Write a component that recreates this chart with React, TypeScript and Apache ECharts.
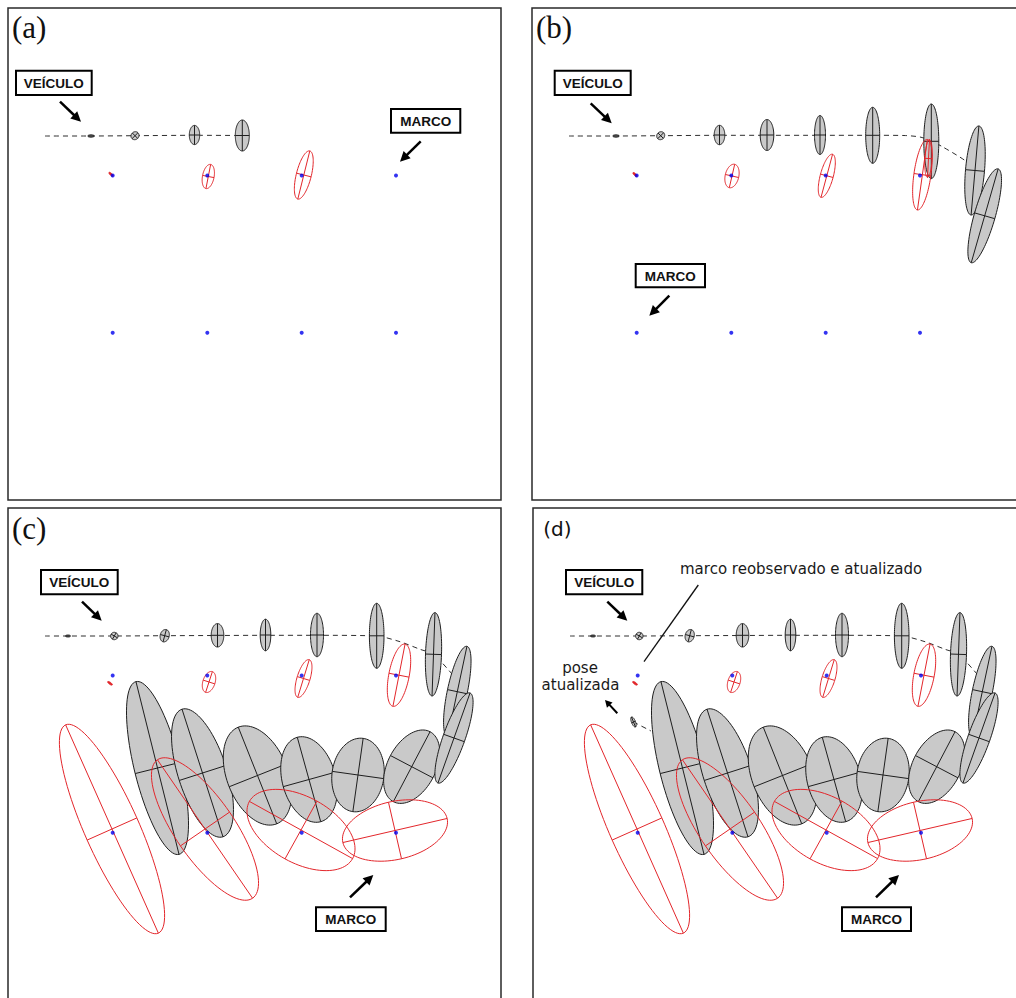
import React, { useEffect, useRef } from "react";
import * as echarts from "echarts";

// ---------------- DATA (panel-local frame, shared by all four panels; y grows downward) ----------------
const LANDMARK_X = [112.7, 207.3, 301.7, 396];
const LANDMARK_Y = [175.5, 332.7];

// Ellipses: [cx, cy, semi-axis a (tilted theta deg from vertical), semi-axis b, theta]
const VEHICLE_A = [
  [91, 136, 1.2, 3.2, 0],
  [135, 135.7, 4.2, 3.8, 45],
  [194.5, 135, 9.6, 5.2, 0],
  [242.3, 135.5, 15.5, 7, 0],
];
const LM_RED_A = [
  [111, 174.3, 2.7, 1, -47],
  [208.3, 176.5, 12.3, 5.8, 11],
  [303.8, 175, 24.8, 7.5, 14],
];
const TRAJ_A = [
  [45, 136], [91, 136], [135, 135.7], [194.5, 135.3], [242.3, 135.5],
];

const VEHICLE_B = [
  [92, 136, 1.2, 3.2, 0],
  [136.7, 135.7, 4.2, 3.8, 45],
  [195.5, 135, 9.7, 5.3, 0],
  [243, 135, 15.5, 6.8, 0],
  [296, 135, 19.5, 5.5, 0],
  [348.7, 135.3, 28, 7, 0],
  [407.3, 141.3, 37.3, 7.5, 0],
  [451, 170.5, 44.7, 9.5, 5],
  [460.7, 215.8, 48.8, 10.5, 16],
];
const LM_RED_B = [
  [111, 174.5, 2.7, 1, -47],
  [208, 176, 12, 6.8, 13],
  [302.8, 175.8, 22.3, 6.5, 15],
  [398.4, 174.7, 35.6, 8.5, 8],
  [404.5, 158.5, 19, 3.6, 3],
];
const TRAJ_B = [
  [45, 136], [92, 136], [136.7, 135.7], [195.5, 135.3], [243, 135.3], [296, 135.3],
  [348.7, 135.3], [380, 135.5], [396, 137], [407.3, 141], [418, 146.5], [441, 160.5], [451, 170.5],
];

const VEHICLE_C = [
  [68, 136, 1, 2.5, 0],
  [114.3, 136, 3.7, 3.7, 30],
  [164.7, 135.7, 6.3, 4.5, 15],
  [217.5, 135.3, 11.7, 6.3, 0],
  [265.5, 135, 15.8, 5.3, 0],
  [317, 135, 21.7, 6.5, 0],
  [376.7, 135.8, 32.5, 7.3, 0],
  [433.5, 154.3, 41.7, 8, 2],
  [457.3, 191.7, 46.4, 10, 12],
  [157.5, 268, 89, 23, -14],
  [202.5, 273, 67, 24.4, -17.8],
  [257.5, 275.5, 52, 30.5, -21.7],
  [309, 279.5, 43.8, 26.7, -15.5],
  [358, 275, 37, 26, 8],
  [411.7, 266.7, 39.5, 24, 27.7],
  [454, 238, 47.8, 11, 19.6],
];
const LM_RED_C = [
  [110, 183.3, 2.8, 1, -54],
  [209, 182, 10.9, 6.1, 18],
  [303.5, 178.5, 19.7, 6.5, 17],
  [399, 175.2, 31.7, 10.2, 11],
  [112, 329, 114, 27.2, -24],
  [205, 329, 84, 29.8, -34.5],
  [301, 330, 59, 33, -61],
  [395, 330.5, 53.5, 29, 77],
];
const TRAJ_C = [
  [45, 136], [68, 136], [114.3, 136], [164.7, 135.7], [217.5, 135.5], [265.5, 135.3],
  [317, 135.3], [376.7, 136], [400, 141.7], [420, 149.3], [433.5, 154.3], [452, 174],
];
const UPDATED_POSE_D = [[108.5, 222, 5.4, 2, -22]];
const TRAJ_D_EXTRA = [[108.5, 222], [126, 231]];

// ---------------- LAYOUT ----------------
const VIEW_W = 1016;
const VIEW_H = 998;
const GRID_POS = [[8, 8], [532, 8], [8, 508], [533, 508]];
const PANEL_W = 493;
const PANEL_H = 492;
const ORIGIN = 8; // local coordinate at each panel's top-left corner

const SANS = '"DejaVu Sans", "Liberation Sans", sans-serif';
const SERIF = '"Liberation Serif", "Times New Roman", serif';
const BOLD = '"Liberation Sans", Arial, sans-serif';

const ANNOTATIONS: any[] = [
  {
    label: "(a)", serif: true, labelAt: [12, 27],
    boxes: [["VEÍCULO", 16, 70.7, 91.7, 95], ["MARCO", 391, 109, 460.3, 132.7]],
    arrows: [[60, 101.7, 81, 121.7], [420.7, 141.3, 400, 161.7]],
  },
  {
    label: "(b)", serif: true, labelAt: [12, 27],
    boxes: [["VEÍCULO", 30.7, 70.7, 106.7, 95], ["MARCO", 111.7, 264, 181, 287.3]],
    arrows: [[66.7, 103.3, 87.7, 123.3], [145.3, 295.7, 125.3, 315.7]],
  },
  {
    label: "(c)", serif: true, labelAt: [12, 28],
    boxes: [["VEÍCULO", 41, 70, 117.7, 94.3], ["MARCO", 316, 407.3, 385.7, 431]],
    arrows: [[82, 101.7, 101.7, 120.7], [350, 397.3, 373.3, 375]],
  },
  {
    label: "(d)", serif: false, labelAt: [18.3, 29],
    boxes: [["VEÍCULO", 41, 70, 117.3, 94.3], ["MARCO", 317, 407.3, 386, 431]],
    arrows: [[82.3, 101.7, 102.3, 120.7], [351, 397.3, 374, 375]],
    texts: [
      ["marco reobservado e atualizado", 155, 69, "left"],
      ["pose", 55, 167.7, "center"],
      ["atualizada", 55.5, 185, "center"],
    ],
    lines: [[173.3, 85, 119, 161.7]],
    smallArrows: [[92.3, 213.3, 80, 200]],
  },
];

function ellipseSeries(grid: number, data: number[][], kind: "veh" | "lm", z: number) {
  return {
    type: "custom",
    coordinateSystem: "cartesian2d",
    xAxisIndex: grid,
    yAxisIndex: grid,
    z,
    silent: true,
    encode: { x: 0, y: 1 },
    data,
    renderItem: (_params: any, api: any) => {
      const a = api.value(2);
      const b = api.value(3);
      const th = (api.value(4) * Math.PI) / 180;
      const c = api.coord([api.value(0), api.value(1)]);
      const s = api.size([1, 1]);
      const sx = Math.abs(s[0]);
      const sy = Math.abs(s[1]);
      const ux = Math.sin(th) * sx, uy = -Math.cos(th) * sy;
      const vx = Math.cos(th) * sx, vy = Math.sin(th) * sy;
      const pts: number[][] = [];
      const N = 96;
      for (let i = 0; i < N; i++) {
        const t = (2 * Math.PI * i) / N;
        pts.push([
          c[0] + a * Math.cos(t) * ux + b * Math.sin(t) * vx,
          c[1] + a * Math.cos(t) * uy + b * Math.sin(t) * vy,
        ]);
      }
      const tiny = Math.max(a, b) < 3.6;
      const stroke = kind === "veh" ? "#1e1e1e" : "#e3262b";
      const fill = kind === "veh" ? (tiny ? "#555555" : "#c9c9c9") : tiny ? "#e3262b" : "none";
      const children: any[] = [
        { type: "polygon", shape: { points: pts }, style: { fill, stroke, lineWidth: 1 } },
      ];
      if (!tiny) {
        children.push({
          type: "line",
          shape: { x1: c[0] - a * ux, y1: c[1] - a * uy, x2: c[0] + a * ux, y2: c[1] + a * uy },
          style: { stroke, lineWidth: 1 },
        });
        children.push({
          type: "line",
          shape: { x1: c[0] - b * vx, y1: c[1] - b * vy, x2: c[0] + b * vx, y2: c[1] + b * vy },
          style: { stroke, lineWidth: 1 },
        });
      }
      return { type: "group", children };
    },
  };
}

function trajSeries(grid: number, data: number[][]) {
  return {
    type: "line",
    xAxisIndex: grid,
    yAxisIndex: grid,
    data,
    symbol: "none",
    showSymbol: false,
    smooth: 0.25,
    silent: true,
    z: 2,
    lineStyle: { color: "#2e2e2e", width: 1, type: [5, 4] },
  };
}

function landmarkSeries(grid: number) {
  const pts: number[][] = [];
  LANDMARK_Y.forEach((y) => LANDMARK_X.forEach((x) => pts.push([x, y])));
  return {
    type: "scatter",
    xAxisIndex: grid,
    yAxisIndex: grid,
    data: pts,
    symbolSize: 4,
    silent: true,
    z: 6,
    itemStyle: { color: "#0000ee" },
  };
}

// visible part of each panel (kept inside the viewport so the 1:1 scale is preserved)
function visibleSize(i: number) {
  const [l, t] = GRID_POS[i];
  return [Math.min(PANEL_W, VIEW_W - l), Math.min(PANEL_H, VIEW_H - t)];
}

function buildOption() {
  const grid = GRID_POS.map(([l, t], i) => {
    const [w, h] = visibleSize(i);
    return { left: l, top: t, width: w, height: h, show: false, containLabel: false };
  });
  const xAxis = GRID_POS.map((_, i) => ({
    type: "value", gridIndex: i, min: ORIGIN, max: ORIGIN + visibleSize(i)[0], show: false,
  }));
  const yAxis = GRID_POS.map((_, i) => ({
    type: "value", gridIndex: i, min: ORIGIN, max: ORIGIN + visibleSize(i)[1], inverse: true, show: false,
  }));
  const series: any[] = [
    trajSeries(0, TRAJ_A),
    ellipseSeries(0, VEHICLE_A, "veh", 3),
    ellipseSeries(0, LM_RED_A, "lm", 4),
    landmarkSeries(0),

    trajSeries(1, TRAJ_B),
    ellipseSeries(1, VEHICLE_B, "veh", 3),
    ellipseSeries(1, LM_RED_B, "lm", 4),
    landmarkSeries(1),

    trajSeries(2, TRAJ_C),
    ellipseSeries(2, VEHICLE_C, "veh", 3),
    ellipseSeries(2, LM_RED_C, "lm", 4),
    landmarkSeries(2),

    trajSeries(3, TRAJ_C),
    trajSeries(3, TRAJ_D_EXTRA),
    ellipseSeries(3, VEHICLE_C, "veh", 3),
    ellipseSeries(3, UPDATED_POSE_D, "veh", 3),
    ellipseSeries(3, LM_RED_C, "lm", 4),
    landmarkSeries(3),
  ];
  return {
    animation: false,
    backgroundColor: "#ffffff",
    grid,
    xAxis,
    yAxis,
    series,
  };
}

function arrowEls(p0: number[], p1: number[], width: number, headLen: number, headHalf: number) {
  const dx = p1[0] - p0[0], dy = p1[1] - p0[1];
  const L = Math.hypot(dx, dy);
  const ux = dx / L, uy = dy / L;
  const bx = p1[0] - ux * headLen, by = p1[1] - uy * headLen;
  return [
    { type: "line", z: 100, shape: { x1: p0[0], y1: p0[1], x2: bx + ux, y2: by + uy }, style: { stroke: "#000", lineWidth: width } },
    {
      type: "polygon", z: 100,
      shape: { points: [[p1[0], p1[1]], [bx - uy * headHalf, by + ux * headHalf], [bx + uy * headHalf, by - ux * headHalf]] },
      style: { fill: "#000" },
    },
  ];
}

function buildGraphics(chart: any) {
  const els: any[] = [];
  ANNOTATIONS.forEach((an, g) => {
    const P = (x: number, y: number) => chart.convertToPixel({ gridIndex: g }, [x, y]);
    // panel frame (full panel size, may run past the viewport edge)
    const o = P(ORIGIN, ORIGIN);
    els.push({
      type: "rect", z: 50,
      shape: { x: o[0], y: o[1], width: PANEL_W, height: PANEL_H },
      style: { fill: "none", stroke: "#2a2a2a", lineWidth: 1.5 },
    });
    const lp = P(an.labelAt[0], an.labelAt[1]);
    els.push({
      type: "text", z: 100, x: lp[0], y: lp[1],
      style: {
        text: an.label, fill: "#111",
        font: an.serif ? `31px ${SERIF}` : `20px ${SANS}`,
        align: "left", verticalAlign: "middle", textAlign: "left", textVerticalAlign: "middle",
      },
    });
    an.boxes.forEach((bx: any) => {
      const [txt, x0, y0, x1, y1] = bx;
      const a = P(x0, y0), b = P(x1, y1);
      els.push({
        type: "rect", z: 100,
        shape: { x: a[0], y: a[1], width: b[0] - a[0], height: b[1] - a[1] },
        style: { fill: "#fff", stroke: "#000", lineWidth: 2 },
      });
      els.push({
        type: "text", z: 101, x: (a[0] + b[0]) / 2, y: (a[1] + b[1]) / 2 + 0.5,
        style: {
          text: txt, fill: "#111", font: `bold 13.5px ${BOLD}`,
          align: "center", verticalAlign: "middle", textAlign: "center", textVerticalAlign: "middle",
        },
      });
    });
    an.arrows.forEach((ar: number[]) => {
      els.push(...arrowEls(P(ar[0], ar[1]), P(ar[2], ar[3]), 2.5, 10, 5));
    });
    (an.texts || []).forEach((t: any) => {
      const p = P(t[1], t[2]);
      els.push({
        type: "text", z: 100, x: p[0], y: p[1],
        style: {
          text: t[0], fill: "#1a1a1a", font: `15px ${SANS}`,
          align: t[3], verticalAlign: "middle", textAlign: t[3], textVerticalAlign: "middle",
        },
      });
    });
    (an.lines || []).forEach((l: number[]) => {
      const a = P(l[0], l[1]), b = P(l[2], l[3]);
      els.push({ type: "line", z: 100, shape: { x1: a[0], y1: a[1], x2: b[0], y2: b[1] }, style: { stroke: "#111", lineWidth: 1.3 } });
    });
    (an.smallArrows || []).forEach((ar: number[]) => {
      els.push(...arrowEls(P(ar[0], ar[1]), P(ar[2], ar[3]), 2, 7, 3.8));
    });
  });
  return els;
}

export default function App() {
  const ref = useRef<HTMLDivElement>(null);
  useEffect(() => {
    if (!ref.current) return;
    const chart = echarts.init(ref.current, null, { renderer: "svg" });
    chart.setOption(buildOption() as any);
    chart.setOption({ graphic: buildGraphics(chart) } as any);
    return () => chart.dispose();
  }, []);
  return (
    <div
      ref={ref}
      style={{ position: "fixed", left: 0, top: 0, width: VIEW_W, height: VIEW_H, background: "#fff" }}
    />
  );
}
